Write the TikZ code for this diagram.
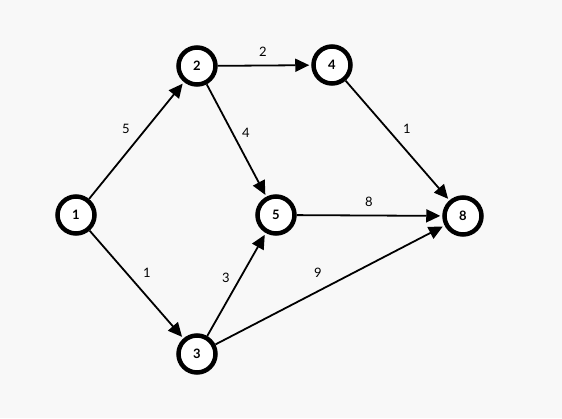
\documentclass[tikz,border=0pt]{standalone}
\usepackage{fontspec}
\setmainfont{Lato}
\usetikzlibrary{arrows.meta}
\definecolor{bgc}{RGB}{248,248,248}
\tikzset{
  vertex/.style={circle, draw=black, fill=white, line width=4.5pt, minimum size=37pt, inner sep=0pt, font=\fontsize{13}{13}\selectfont\bfseries},
  edge/.style={line width=1.8pt, -{Triangle[length=14pt,width=13pt]}, shorten >=2pt},
  wlabel/.style={font=\fontsize{13}{13}\selectfont, inner sep=0pt}
}
\begin{document}
\begin{tikzpicture}[x=1pt,y=-1pt]
\fill[bgc] (0,0) rectangle (562,418);
\useasboundingbox (0,0) rectangle (562,418);
\node[vertex] (n1) at (76,215) {1};
\node[vertex] (n2) at (197,66) {2};
\node[vertex] (n3) at (197,354) {3};
\node[vertex] (n4) at (332,65) {4};
\node[vertex] (n5) at (276,215) {5};
\node[vertex] (n8) at (463,216) {8};
\draw[edge] (n1) -- (n2);
\draw[edge] (n1) -- (n3);
\draw[edge] (n2) -- (n4);
\draw[edge] (n2) -- (n5);
\draw[edge] (n4) -- (n8);
\draw[edge] (n5) -- (n8);
\draw[edge] (n3) -- (n5);
\draw[edge] (n3) -- (n8);
\node[wlabel] (l12) at (126,129) {5};
\node[wlabel] (l13) at (147,273) {1};
\node[wlabel] (l24) at (263,52) {2};
\node[wlabel] (l25) at (246,133) {4};
\node[wlabel] (l48) at (407,129) {1};
\node[wlabel] (l58) at (369,202) {8};
\node[wlabel] (l35) at (226,278) {3};
\node[wlabel] (l38) at (318,273) {9};
\end{tikzpicture}
\end{document}
